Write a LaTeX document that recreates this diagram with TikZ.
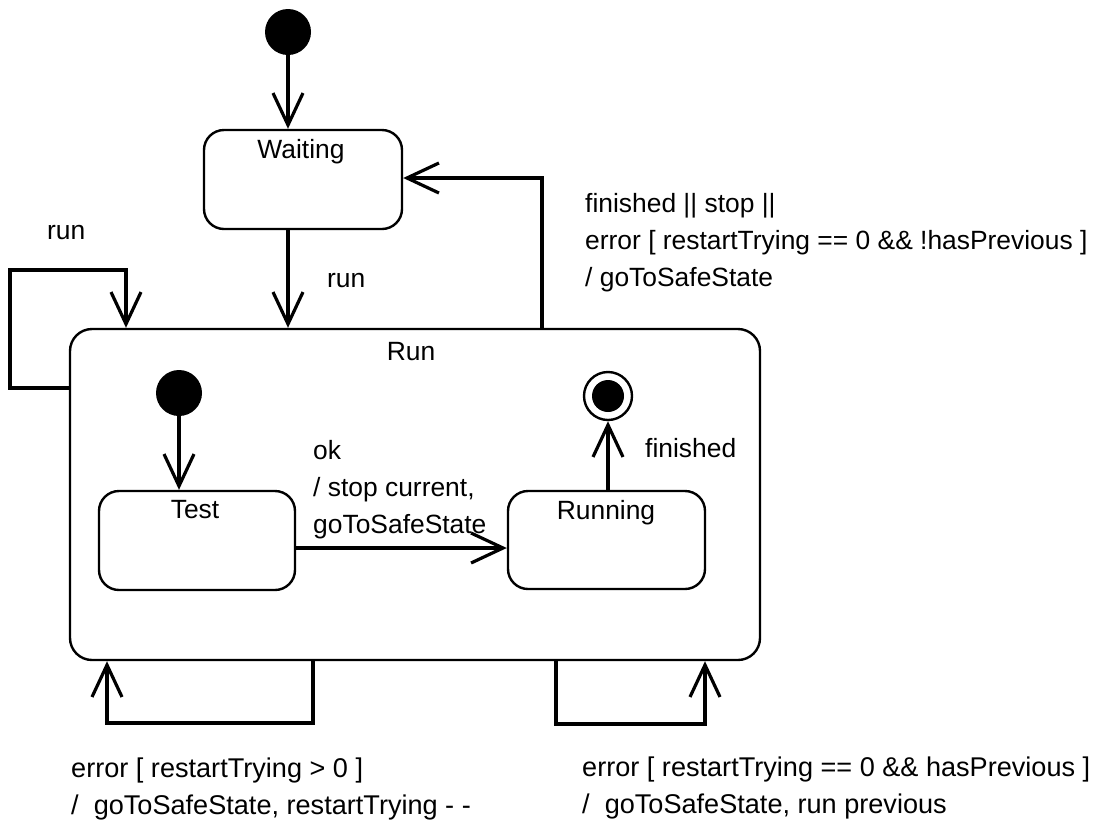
\documentclass[tikz,border=0pt]{standalone}
\usepackage{fontspec}
\setmainfont{Liberation Sans}
\usetikzlibrary{arrows.meta,calc}

\tikzset{
  state/.style={draw, line width=2.4pt, rounded corners=20pt, inner sep=0pt},
  initial/.style={circle, fill=black, minimum size=46pt, inner sep=0pt},
  finalring/.style={circle, draw, line width=2.4pt, minimum size=48pt, inner sep=0pt},
  flow/.style={line width=3.2pt, -{Straight Barb[length=32pt,width=30pt]}},
  txt/.style={font=\fontsize{26.4}{36.6}\selectfont, inner sep=0pt, align=left, anchor=base west},
  bigtxt/.style={txt, font=\fontsize{27.1}{36.6}\selectfont},
  title/.style={font=\fontsize{26.4}{36.6}\selectfont, inner sep=0pt, anchor=base},
}

\begin{document}
\begin{tikzpicture}[x=1pt, y=-1pt]
\useasboundingbox (0,0) rectangle (1107,820);

% states
\node[initial] (init1) at (288,32) {};
\node[state, minimum width=198pt, minimum height=99pt] (waiting) at (303,179.5) {};
\node[title] at ($(waiting.north)+(-2,30)$) {Waiting};

\node[state, rounded corners=22pt, minimum width=690pt, minimum height=331pt] (run) at (415,494.5) {};
\node[title] at (411,360) {Run};

\node[initial] (init2) at (179,393) {};
\node[state, minimum width=196pt, minimum height=99pt] (test) at (197,540.5) {};
\node[title] at (195,518) {Test};
\node[state, minimum width=197pt, minimum height=98pt] (running) at (606.5,540) {};
\node[title] at (606,519) {Running};

\node[finalring] (final) at (608,396) {};
\fill (final.center) circle (16pt);

% routing points
\coordinate (up) at (542,178);
\coordinate (lpa) at (10,388);
\coordinate (lpb) at (126,270);
\coordinate (okrow) at (0,548);
\coordinate (bla) at (313,723);
\coordinate (blb) at (107,723);
\coordinate (bra) at (556,724);
\coordinate (brb) at (705,724);

% transitions
\draw[flow] (init1.south) -- (init1.south |- waiting.north);
\draw[flow] (init1.south |- waiting.south) -- (init1.south |- run.north);
\draw[flow] (up |- run.north) -- (up) -- (up -| waiting.east);
\draw[flow] (lpa -| run.west) -- (lpa) |- (lpb) -- (lpb |- run.north);
\draw[flow] (init2.south) -- (init2.south |- test.north);
\draw[flow] (test.east |- okrow) -- (running.west |- okrow);
\draw[flow] (final.south |- running.north) -- (final.south);
\draw[flow] (bla |- run.south) -- (bla) -- (blb) -- (blb |- run.south);
\draw[flow] (bra |- run.south) -- (bra) -- (brb) -- (brb |- run.south);

% transition labels (anchored at the baseline of their last line)
\node[txt] at (47,239) {run};
\node[txt] at (327,287) {run};
\node[txt] at (585,286) {finished || stop ||\\error [ restartTrying == 0 \&\& !hasPrevious ]\\/ goToSafeState};
\node[txt] at (313,533) {ok\\/ stop current,\\goToSafeState};
\node[txt] at (645,457) {finished};
\node[bigtxt] at (71,814) {error [ restartTrying > 0 ]\\/\ \ goToSafeState, restartTrying - -};
\node[bigtxt] at (582,813) {error [ restartTrying == 0 \&\& hasPrevious ]\\/\ \ goToSafeState, run previous};
\end{tikzpicture}
\end{document}
